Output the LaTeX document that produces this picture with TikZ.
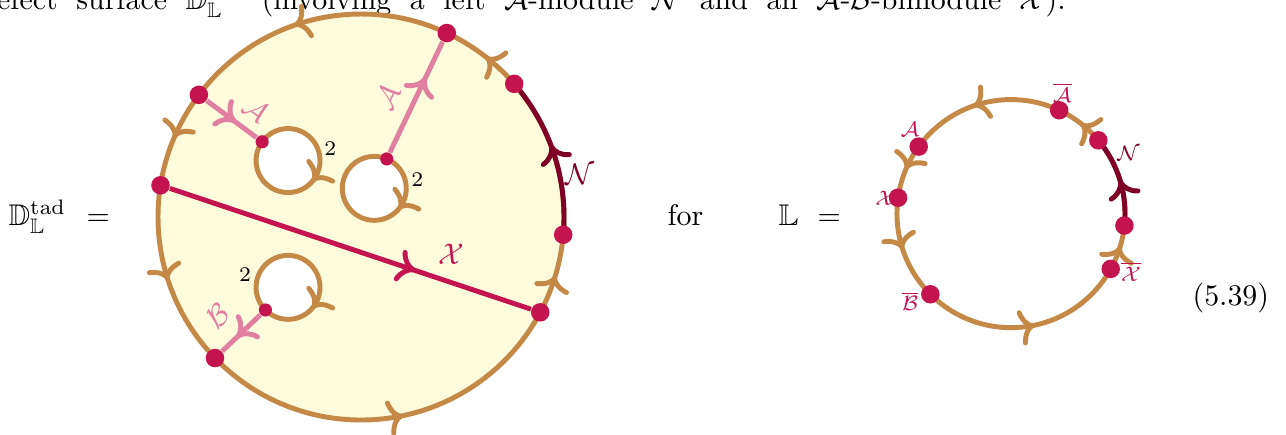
\documentclass[tikz,border=0pt]{standalone}
\usepackage{amsmath, amssymb}
\usepackage{xcolor}
\usetikzlibrary{positioning, arrows.meta, decorations.markings, bending, calc}

\definecolor{bdry}{RGB}{196,137,71}
\definecolor{discfill}{RGB}{254,250,220}
\definecolor{defpt}{RGB}{196,20,79}
\definecolor{modline}{RGB}{224,127,160}
\definecolor{nmod}{RGB}{127,0,39}

\newcommand{\discR}{2.387}
\newcommand{\holeR}{0.376}
\newcommand{\smallR}{1.341}

\begin{document}
\begin{tikzpicture}[
    bdtip/.tip={Computer Modern Rightarrow[length=5pt, width=12pt]},
    lntip/.tip={Computer Modern Rightarrow[length=6pt, width=11pt]},
    bd/.style={draw=bdry, line width=1.65pt},
    hole/.style={draw=bdry, line width=1.65pt, fill=white},
    bdticks/.style={postaction={decorate, decoration={markings,
        mark=at position 0.144 with {\arrow{bdtip}},
        mark=at position 0.303 with {\arrow{bdtip}},
        mark=at position 0.436 with {\arrow{bdtip}},
        mark=at position 0.550 with {\arrow{bdtip}},
        mark=at position 0.783 with {\arrow{bdtip}},
        mark=at position 0.953 with {\arrow{bdtip}}}}},
    holetick/.style={postaction={decorate, decoration={markings,
        mark=at position 0.89 with {\arrowreversed{bdtip}}}}},
    midarrow/.style={postaction={decorate, decoration={markings,
        mark=at position #1 with {\arrow{lntip}}}}},
    pt/.style={circle, fill=defpt, inner sep=0pt, minimum size=6.2pt},
    spt/.style={circle, fill=defpt, inner sep=0pt, minimum size=4.4pt},
    xline/.style={draw=defpt, line width=1.65pt},
    aline/.style={draw=modline, line width=1.65pt},
    nline/.style={draw=nmod, line width=1.65pt},
    txt/.style={inner sep=0pt, anchor=base west},
    slbl/.style={inner sep=0pt, font=\scriptsize, text=defpt},
]
\useasboundingbox (-4.245,-2.563) rectangle (10.877,2.552);

% === Line of text above ===
\node[txt] (prev) at (-4.480, 2.446) {\makebox[363pt][s]{defect surface $\mathbb{D}_{\mathbb{L}}^{\mathrm{tad}}$ (involving a left $\mathcal{A}$-module $\mathcal{N}$ and an $\mathcal{A}$-$\mathcal{B}$-bimodule $\mathcal{X}$).}};

% === Equation text ===
\node[txt] (lhs) at (-4.151, -0.094) {$\mathbb{D}_{\mathbb{L}}^{\mathrm{tad}}$};
\node[txt] (eq1) at (-3.234, -0.094) {$=$};
\node[txt] (for) at (3.598, -0.094) {for};
\node[txt] (ll) at (4.904, -0.094) {$\mathbb{L}$};
\node[txt] (eq2) at (5.362, -0.094) {$=$};
\node[txt] (eqno) at (9.772, -1.035) {(5.39)};

% === Disc and its boundary ===
\path[fill=discfill] (0,0) circle[radius=\discR];
\draw[bd, bdticks] (0,0) circle[radius=\discR];
\draw[nline, midarrow=0.56] (-5:\discR) arc[start angle=-5, end angle=41, radius=\discR];

% === Holes ===
\coordinate (h1) at (-0.858, 0.664);
\coordinate (h2) at (0.156, 0.337);
\coordinate (h3) at (-0.858, -0.827);
\foreach \h in {h1,h2,h3}
  \draw[hole, holetick] (\h) circle[radius=\holeR];
\node[font=\scriptsize] at ($(h1)+(16:0.517)$) {2};
\node[font=\scriptsize] at ($(h2)+(12:0.517)$) {2};
\node[font=\scriptsize] at ($(h3)+(164:0.525)$) {2};

% === Points on the boundary ===
\node[pt] (dA) at (143:\discR) {};
\node[pt] (dX) at (171:\discR) {};
\node[pt] (dB) at (224:\discR) {};
\node[pt] (dAb) at (65:\discR) {};
\node[pt] (dN1) at (41:\discR) {};
\node[pt] (dN2) at (-5:\discR) {};
\node[pt] (dXb) at (-28:\discR) {};
\node[text=nmod] at (11:2.62) {$\mathcal{N}$};

% === Points on the holes ===
\node[spt] (e1) at ($(h1)+(144:\holeR)$) {};
\node[spt] (e2) at ($(h2)+(67:\holeR)$) {};
\node[spt] (e3) at ($(h3)+(225:\holeR)$) {};

% === Lines ===
\draw[xline, midarrow=0.68] (dX) -- node[pos=0.78, above=2pt, text=defpt] {$\mathcal{X}$} (dXb);
\draw[aline, midarrow=0.58] (dA) -- node[pos=0.72, above, sloped, text=modline] {$\mathcal{A}$} (e1);
\draw[aline, midarrow=0.68] (e2) -- node[pos=0.4, above=1pt, sloped, text=modline] {$\mathcal{A}$} (dAb);
\draw[aline, midarrow=0.62] (e3) -- node[pos=0.6, above=2pt, sloped, text=modline] {$\mathcal{B}$} (dB);

% === The circle L ===
\begin{scope}[shift={(7.643,0.04)}]
\draw[bd, bdticks] (0,0) circle[radius=\smallR];
\draw[nline, midarrow=0.5] (-6:\smallR) arc[start angle=-6, end angle=40, radius=\smallR];
\node[pt] (sA) at (144:\smallR) {};
\node[pt] (sX) at (172:\smallR) {};
\node[pt] (sB) at (225:\smallR) {};
\node[pt] (sAb) at (65:\smallR) {};
\node[pt] (sN1) at (40:\smallR) {};
\node[pt] (sN2) at (-6:\smallR) {};
\node[pt] (sXb) at (-29:\smallR) {};
\node[slbl] at (140:1.55) {$\mathcal{A}$};
\node[slbl] at (173:1.49) {$\mathcal{X}$};
\node[slbl] at (221:1.57) {$\overline{\mathcal{B}}$};
\node[slbl] at (-26:1.57) {$\overline{\mathcal{X}}$};
\node[slbl] at (67:1.54) {$\overline{\mathcal{A}}$};
\node[slbl, text=nmod] at (27:1.55) {$\mathcal{N}$};
\end{scope}

\end{tikzpicture}
\end{document}
